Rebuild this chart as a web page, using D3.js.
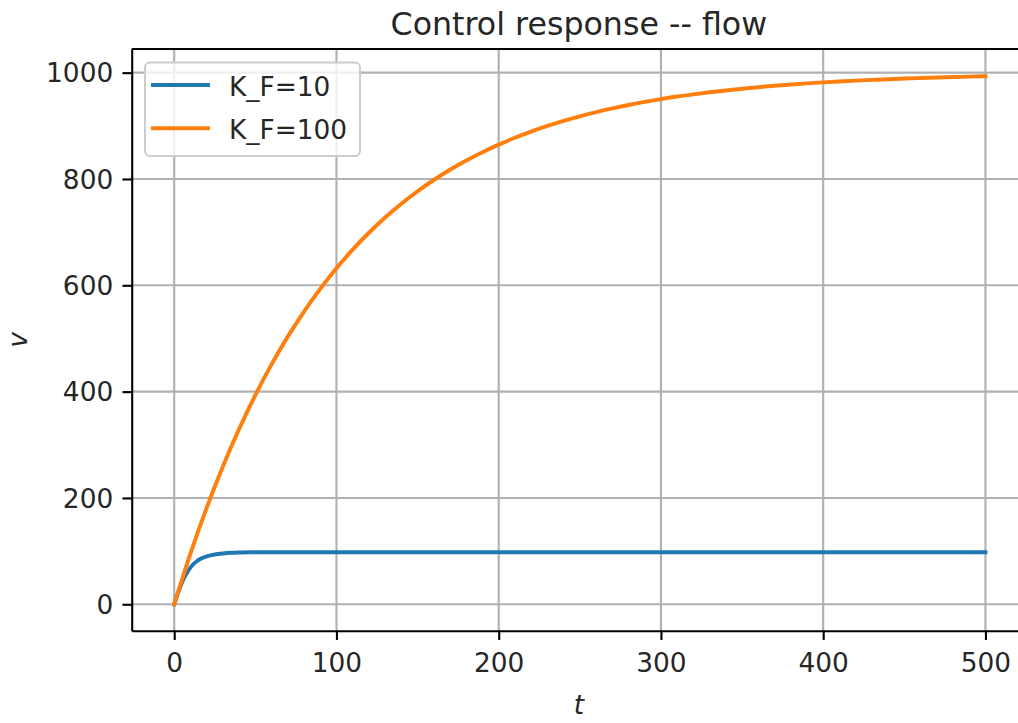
<!DOCTYPE html>
<html>
<head>
<meta charset="utf-8">
<script src="https://cdn.jsdelivr.net/npm/d3@7"></script>
<style>
  html, body { margin: 0; padding: 0; background: #ffffff; }
  svg { display: block; }
  text { font-family: "DejaVu Sans", sans-serif; fill: #262626; }
</style>
</head>
<body>
<svg id="chart" width="1018" height="723"></svg>
<script>
// Step response of the flow controller for two feedback gains.
const seriesNames = ["K_F=10", "K_F=100"];
const seriesColors = ["#1f77b4", "#ff7f0e"];

// K_F = 10: fast rise, settles near 98
const tLow = [0, 2, 4, 6, 8, 10, 12, 14, 16, 18, 20, 25, 30, 35, 40, 50, 60, 80,
  100, 150, 200, 250, 300, 350, 400, 450, 500];
const vLow = [0, 18, 35, 49, 60, 69, 76, 81, 85, 88, 90, 93.5, 95.5, 96.8, 97.4, 97.8, 98, 98,
  98, 98, 98, 98, 98, 98, 98, 98, 98];

// K_F = 100: slow rise towards 1000
const tHigh = [0, 10, 20, 30, 40, 50, 60, 70, 80, 90, 100, 110, 120, 130, 140, 150, 160, 170,
  180, 190, 200, 210, 220, 230, 240, 250, 260, 270, 280, 290, 300, 310, 320, 330, 340, 350,
  360, 370, 380, 390, 400, 410, 420, 430, 440, 450, 460, 470, 480, 490, 500];
const vHigh = [0, 95.2, 181.3, 259.2, 329.7, 393.5, 451.2, 503.4, 550.7, 593.4, 632.1, 667.1,
  698.8, 727.5, 753.4, 776.9, 798.1, 817.3, 834.7, 850.4, 864.7, 877.5, 889.2, 899.7, 909.3,
  917.9, 925.7, 932.8, 939.2, 945.0, 950.2, 955.0, 959.2, 963.1, 966.6, 969.8, 972.7, 975.3,
  977.6, 979.8, 981.7, 983.4, 985.0, 986.4, 987.7, 988.9, 989.9, 990.9, 991.8, 992.5, 993.3];

const xTicks = [0, 100, 200, 300, 400, 500];
const yTicks = [0, 200, 400, 600, 800, 1000];

const titleText = "Control response -- flow";
const xLabel = "t";
const yLabel = "v";

// ---- layout ----
const plot = { left: 131.7, top: 49, bottom: 630.7 };
const pt = 2.64;               // pixels per point
const fontPx = 10 * pt;
const svg = d3.select("#chart");

const x = d3.scaleLinear().domain([-26.2, 525]).range([plot.left, plot.left + 894.3]);
const y = d3.scaleLinear().domain([-49.7, 1044.5]).range([plot.bottom, plot.top]);
const plotRight = x.range()[1];

// ---- grid ----
const grid = svg.append("g").attr("class", "grid");
grid.selectAll("line.gx").data(xTicks).join("line")
  .attr("x1", d => x(d)).attr("x2", d => x(d))
  .attr("y1", plot.top).attr("y2", plot.bottom)
  .attr("stroke", "#b0b0b0").attr("stroke-width", 0.8 * pt);
grid.selectAll("line.gy").data(yTicks).join("line")
  .attr("x1", plot.left).attr("x2", plotRight)
  .attr("y1", d => y(d)).attr("y2", d => y(d))
  .attr("stroke", "#b0b0b0").attr("stroke-width", 0.8 * pt);

// ---- lines ----
svg.append("defs").append("clipPath").attr("id", "plotClip")
  .append("rect").attr("x", plot.left).attr("y", plot.top)
  .attr("width", plotRight - plot.left).attr("height", plot.bottom - plot.top);

const line = d3.line().x(d => x(d[0])).y(d => y(d[1])).curve(d3.curveMonotoneX);
const series = [
  { name: seriesNames[0], color: seriesColors[0], pts: tLow.map((t, i) => [t, vLow[i]]) },
  { name: seriesNames[1], color: seriesColors[1], pts: tHigh.map((t, i) => [t, vHigh[i]]) }
];
const linesG = svg.append("g").attr("clip-path", "url(#plotClip)");
linesG.selectAll("path").data(series).join("path")
  .attr("d", d => line(d.pts))
  .attr("fill", "none")
  .attr("stroke", d => d.color)
  .attr("stroke-width", 1.5 * pt)
  .attr("stroke-linecap", "square")
  .attr("stroke-linejoin", "round");

// ---- axes ----
const xAxis = d3.axisBottom(x).tickValues(xTicks).tickFormat(d3.format("d"))
  .tickSize(3.5 * pt).tickSizeOuter(0).tickPadding(3.5 * pt);
const yAxis = d3.axisLeft(y).tickValues(yTicks).tickFormat(d3.format("d"))
  .tickSize(3.5 * pt).tickSizeOuter(0).tickPadding(3.5 * pt);

const gx = svg.append("g").attr("transform", `translate(0,${plot.bottom})`).call(xAxis);
const gy = svg.append("g").attr("transform", `translate(${plot.left},0)`).call(yAxis);
[gx, gy].forEach(g => {
  g.attr("font-family", null).attr("font-size", null);
  g.selectAll("path.domain").attr("stroke", "#000").attr("stroke-width", 0.8 * pt);
  g.selectAll(".tick line").attr("stroke", "#000").attr("stroke-width", 0.8 * pt);
  g.selectAll(".tick text").style("font-size", fontPx + "px").attr("fill", "#262626");
});
gx.selectAll(".tick text").attr("dy", "0.85em");
gy.selectAll(".tick text").attr("dy", "0.35em");

// top and right spines
svg.append("line").attr("x1", plot.left).attr("x2", plotRight)
  .attr("y1", plot.top).attr("y2", plot.top)
  .attr("stroke", "#000").attr("stroke-width", 0.8 * pt);
svg.append("line").attr("x1", plotRight).attr("x2", plotRight)
  .attr("y1", plot.top).attr("y2", plot.bottom)
  .attr("stroke", "#000").attr("stroke-width", 0.8 * pt);

// ---- labels ----
const midX = (plot.left + plotRight) / 2;
svg.append("text").attr("x", midX).attr("y", 35)
  .attr("text-anchor", "middle").style("font-size", (12 * pt) + "px")
  .text(titleText);
svg.append("text").attr("x", midX).attr("y", 714)
  .attr("text-anchor", "middle").style("font-size", fontPx + "px")
  .style("font-style", "italic").text(xLabel);
svg.append("text")
  .attr("transform", `translate(27,${(plot.top + plot.bottom) / 2}) rotate(-90)`)
  .attr("text-anchor", "middle").style("font-size", fontPx + "px")
  .style("font-style", "italic").text(yLabel);

// ---- legend ----
const legend = svg.append("g").attr("class", "legend");
legend.append("rect")
  .attr("x", 145).attr("y", 62.5).attr("width", 215).attr("height", 93.5)
  .attr("rx", 5).attr("ry", 5)
  .attr("fill", "#ffffff").attr("fill-opacity", 0.8)
  .attr("stroke", "#cccccc").attr("stroke-width", 2);
const rows = legend.selectAll("g.row").data(series).join("g")
  .attr("class", "row")
  .attr("transform", (d, i) => `translate(0,${85 + i * 43.3})`);
rows.append("line")
  .attr("x1", 153).attr("x2", 208).attr("y1", 0).attr("y2", 0)
  .attr("stroke", d => d.color).attr("stroke-width", 1.5 * pt)
  .attr("stroke-linecap", "square");
rows.append("text")
  .attr("x", 229).attr("y", 0).attr("dy", "0.4em")
  .style("font-size", fontPx + "px")
  .text(d => d.name);
</script>
</body>
</html>
